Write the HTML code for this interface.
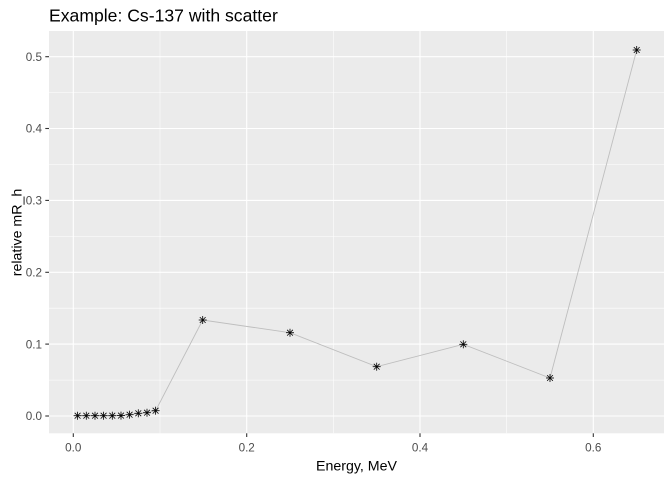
<!DOCTYPE html>
<html><head><meta charset="utf-8"><style>
html,body{margin:0;padding:0;background:#fff;}
svg{display:block;}
text{font-family:"Liberation Sans",Arial,sans-serif;}
</style></head><body>
<svg width="672" height="480" viewBox="0 0 672 480" xmlns="http://www.w3.org/2000/svg">
<rect x="0" y="0" width="672" height="480" fill="#fff"/>
<!-- panel -->
<rect x="49" y="31" width="615" height="402.3" fill="#EBEBEB"/>
<!-- minor grid -->
<g stroke="#fff" stroke-width="0.55" fill="none">
<line x1="49" x2="664" y1="380.1" y2="380.1"/>
<line x1="49" x2="664" y1="308.2" y2="308.2"/>
<line x1="49" x2="664" y1="236.4" y2="236.4"/>
<line x1="49" x2="664" y1="164.5" y2="164.5"/>
<line x1="49" x2="664" y1="92.6" y2="92.6"/>
<line y1="31" y2="433.3" x1="160" x2="160"/>
<line y1="31" y2="433.3" x1="333.3" x2="333.3"/>
<line y1="31" y2="433.3" x1="506.7" x2="506.7"/>
</g>
<!-- major grid -->
<g stroke="#fff" stroke-width="1.1" fill="none">
<line x1="49" x2="664" y1="416" y2="416"/>
<line x1="49" x2="664" y1="344.1" y2="344.1"/>
<line x1="49" x2="664" y1="272.3" y2="272.3"/>
<line x1="49" x2="664" y1="200.4" y2="200.4"/>
<line x1="49" x2="664" y1="128.5" y2="128.5"/>
<line x1="49" x2="664" y1="56.7" y2="56.7"/>
<line y1="31" y2="433.3" x1="73.3" x2="73.3"/>
<line y1="31" y2="433.3" x1="246.7" x2="246.7"/>
<line y1="31" y2="433.3" x1="420" x2="420"/>
<line y1="31" y2="433.3" x1="593.3" x2="593.3"/>
</g>
<!-- line -->
<polyline fill="none" stroke="#BEBEBE" stroke-width="0.9" points="77.6,415.7 86.3,415.7 95,415.7 103.6,415.7 112.3,415.7 121,415.6 129.6,414.7 138.3,413.3 147,412.7 155.6,410.7 202.7,320 290,332.7 376.7,366.7 463.3,344.3 550,378 636.7,50"/>
<!-- points -->
<defs>
<g id="st" stroke="#000" stroke-width="0.8" fill="none">
<line x1="-4" y1="0" x2="4" y2="0"/>
<line x1="0" y1="-4" x2="0" y2="4"/>
<line x1="-2.9" y1="-2.9" x2="2.9" y2="2.9"/>
<line x1="-2.9" y1="2.9" x2="2.9" y2="-2.9"/>
</g>
</defs>
<use href="#st" x="77.6" y="415.7"/>
<use href="#st" x="86.3" y="415.7"/>
<use href="#st" x="95" y="415.7"/>
<use href="#st" x="103.6" y="415.7"/>
<use href="#st" x="112.3" y="415.7"/>
<use href="#st" x="121" y="415.6"/>
<use href="#st" x="129.6" y="414.7"/>
<use href="#st" x="138.3" y="413.3"/>
<use href="#st" x="147" y="412.7"/>
<use href="#st" x="155.6" y="410.7"/>
<use href="#st" x="202.7" y="320"/>
<use href="#st" x="290" y="332.7"/>
<use href="#st" x="376.7" y="366.7"/>
<use href="#st" x="463.3" y="344.3"/>
<use href="#st" x="550" y="378"/>
<use href="#st" x="636.7" y="50"/>
<!-- ticks -->
<g stroke="#333" stroke-width="1.1">
<line x1="45.3" x2="49" y1="416" y2="416"/>
<line x1="45.3" x2="49" y1="344.1" y2="344.1"/>
<line x1="45.3" x2="49" y1="272.3" y2="272.3"/>
<line x1="45.3" x2="49" y1="200.4" y2="200.4"/>
<line x1="45.3" x2="49" y1="128.5" y2="128.5"/>
<line x1="45.3" x2="49" y1="56.7" y2="56.7"/>
<line y1="433.3" y2="437" x1="73.3" x2="73.3"/>
<line y1="433.3" y2="437" x1="246.7" x2="246.7"/>
<line y1="433.3" y2="437" x1="420" x2="420"/>
<line y1="433.3" y2="437" x1="593.3" x2="593.3"/>
</g>
<!-- tick labels -->
<g fill="#4D4D4D" font-size="11.7" text-anchor="end">
<text x="42" y="420.2">0.0</text>
<text x="42" y="348.3">0.1</text>
<text x="42" y="276.5">0.2</text>
<text x="42" y="204.6">0.3</text>
<text x="42" y="132.7">0.4</text>
<text x="42" y="60.9">0.5</text>
</g>
<g fill="#4D4D4D" font-size="11.7" text-anchor="middle">
<text x="73.3" y="451.5">0.0</text>
<text x="246.7" y="451.5">0.2</text>
<text x="420" y="451.5">0.4</text>
<text x="593.3" y="451.5">0.6</text>
</g>
<!-- axis titles -->
<text x="356.5" y="470.5" font-size="14.2" text-anchor="middle" fill="#000">Energy, MeV</text>
<text transform="translate(21.5,232.5) rotate(-90)" font-size="14.2" text-anchor="middle" fill="#000">relative mR_h</text>
<!-- title -->
<text x="49" y="21.5" font-size="17.6" fill="#000">Example: Cs-137 with scatter</text>
</svg>
</body></html>
